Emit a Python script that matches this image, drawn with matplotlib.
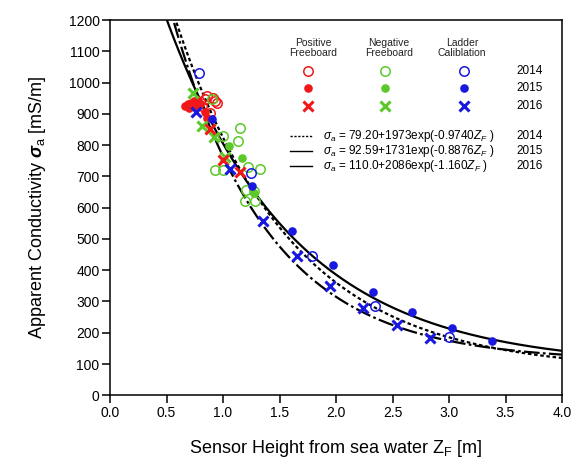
import numpy as np
import matplotlib
matplotlib.use('Agg')
import matplotlib.pyplot as plt

plt.rcParams['font.family'] = ['Liberation Sans', 'DejaVu Sans']
plt.rcParams['mathtext.fontset'] = 'custom'
plt.rcParams['mathtext.rm'] = 'Liberation Sans'
plt.rcParams['mathtext.it'] = 'Liberation Sans:italic'
plt.rcParams['mathtext.bf'] = 'Liberation Sans:bold'
plt.rcParams['mathtext.bfit'] = 'Liberation Sans:bold:italic'

# colours
rojo = '#f01818'
verde = '#5cc82a'
azul = '#1818e0'

# Positive freeboard (red)
pos14_z = [0.84, 0.856, 0.915, 0.944, 0.812, 0.886, 0.93]
pos14_s = [946, 958, 950, 936, 924, 902, 940]
pos15_z = [0.66, 0.69, 0.72, 0.74, 0.76, 0.78, 0.80, 0.70, 0.84, 0.86]
pos15_s = [925, 930, 935, 940, 926, 945, 932, 918, 905, 886]
pos16_z = [0.886, 1.00, 1.15]
pos16_s = [851, 753, 714]

# Negative freeboard (green)
neg14_z = [0.90, 1.004, 1.131, 1.154, 0.93, 1.00, 1.225, 1.33, 1.205, 1.275, 1.196, 1.284]
neg14_s = [947, 830, 812, 854, 721, 721, 730, 722, 657, 652, 620, 622]
neg15_z = [1.054, 1.166, 1.27]
neg15_s = [797, 760, 648]
neg16_z = [0.732, 0.812, 0.921, 1.019]
neg16_s = [968, 862, 826, 762]

# Ladder calibration (blue)
lad14_z = [0.79, 1.25, 1.79, 2.341, 2.997]
lad14_s = [1032, 711, 446, 287, 188]
lad15_z = [0.90, 1.255, 1.615, 1.975, 2.324, 2.675, 3.026, 3.384]
lad15_s = [883, 670, 526, 416, 330, 265, 214, 175]
lad16_z = [0.762, 1.06, 1.352, 1.654, 1.949, 2.238, 2.539, 2.829]
lad16_s = [906, 723, 557, 446, 351, 280, 225, 182]

# fitted curves: a + b*exp(c*Z)
fit_a = [79.20, 92.59, 110.0]
fit_b = [1973, 1731, 2086]
fit_c = [-0.9740, -0.8876, -1.160]
anios = ['2014', '2015', '2016']
ecuaciones = [r'$\sigma_a$ = 79.20+1973exp(-0.9740$Z_F$ )',
              r'$\sigma_a$ = 92.59+1731exp(-0.8876$Z_F$ )',
              r'$\sigma_a$ = 110.0+2086exp(-1.160$Z_F$ )']
estilos = [(0, (1.6, 1.2)), '-', (0, (7, 1.5, 1.2, 1.5))]

fig = plt.figure(figsize=(5.77, 4.62), dpi=100)
ax = fig.add_axes([110 / 577, 1 - 395.3 / 462, 452 / 577, 375.3 / 462])

z = np.linspace(0.3, 4.0, 400)
for a, b, c, ls in zip(fit_a, fit_b, fit_c, estilos):
    ax.plot(z, a + b * np.exp(c * z), color='black', lw=1.6, ls=ls, zorder=2)

abierto = dict(marker='o', ls='none', mfc='none', ms=6.8, mew=1.1)
lleno = dict(marker='o', ls='none', ms=6.2, mew=0)
cruz = dict(marker='x', ls='none', ms=7.5, mew=2.2)

ax.plot(pos14_z, pos14_s, mec=rojo, **abierto)
ax.plot(neg14_z, neg14_s, mec=verde, **abierto)
ax.plot(lad14_z, lad14_s, mec=azul, **abierto)
ax.plot(pos15_z, pos15_s, color=rojo, **lleno)
ax.plot(neg15_z, neg15_s, color=verde, **lleno)
ax.plot(lad15_z, lad15_s, color=azul, **lleno)
ax.plot(neg16_z, neg16_s, color=verde, **cruz)
ax.plot(pos16_z, pos16_s, color=rojo, **cruz)
ax.plot(lad16_z, lad16_s, color=azul, **cruz)

ax.set_xlim(0, 4.0)
ax.set_ylim(0, 1200)
ax.set_xticks(np.arange(0, 4.01, 0.5))
ax.set_yticks(np.arange(0, 1201, 100))
ax.tick_params(direction='out', length=6, width=1.1, labelsize=10, pad=1.5,
               top=False, right=False)
for s in ax.spines.values():
    s.set_linewidth(1.1)
ax.set_xlabel(r'Sensor Height from sea water Z$_\mathrm{F}$ [m]', fontsize=13, labelpad=13)
ax.set_ylabel(r'Apparent Conductivity $\mathbfit{\sigma}_\mathrm{a}$ [mS/m]', fontsize=13, labelpad=15)


# hand-made legend in pixel positions of the original figure
def fx(px):
    return (px - 110) / 452


def fy(py):
    return (395.3 - py) / 375.3


tr = ax.transAxes
cabeceras = ['Positive\nFreeboard', 'Negative\nFreeboard', 'Ladder\nCaliblation']
col_x = [308, 385, 464]
for t, cx in zip(cabeceras, [313, 389, 462]):
    ax.text(fx(cx), fy(48), t, transform=tr, ha='center', va='center',
            fontsize=7.5, color='#222222', linespacing=1.1)
fila_y = [71, 88, 106]
colores = [rojo, verde, azul]
for cx, col in zip(col_x, colores):
    ax.plot([fx(cx)], [fy(fila_y[0])], transform=tr, mec=col, clip_on=False, **abierto)
    ax.plot([fx(cx)], [fy(fila_y[1])], transform=tr, color=col, clip_on=False, **lleno)
    ax.plot([fx(cx)], [fy(fila_y[2])], transform=tr, color=col, clip_on=False, **cruz)
for yy, an in zip(fila_y, anios):
    ax.text(fx(516), fy(yy), an, transform=tr, ha='left', va='center', fontsize=8.5)

eq_y = [136, 151, 166]
for yy, eq, an, ls in zip(eq_y, ecuaciones, anios, ['--', '-', '-']):
    ax.plot([fx(290), fx(312)], [fy(yy), fy(yy)], transform=tr, color='black', lw=1,
            ls=(0, (1.6, 1.2)) if ls == '--' else '-')
    ax.text(fx(323), fy(yy), eq, transform=tr, ha='left', va='center', fontsize=8.5)
    ax.text(fx(516), fy(yy), an, transform=tr, ha='left', va='center', fontsize=8.5)

fig.savefig('out.png', dpi=100)
